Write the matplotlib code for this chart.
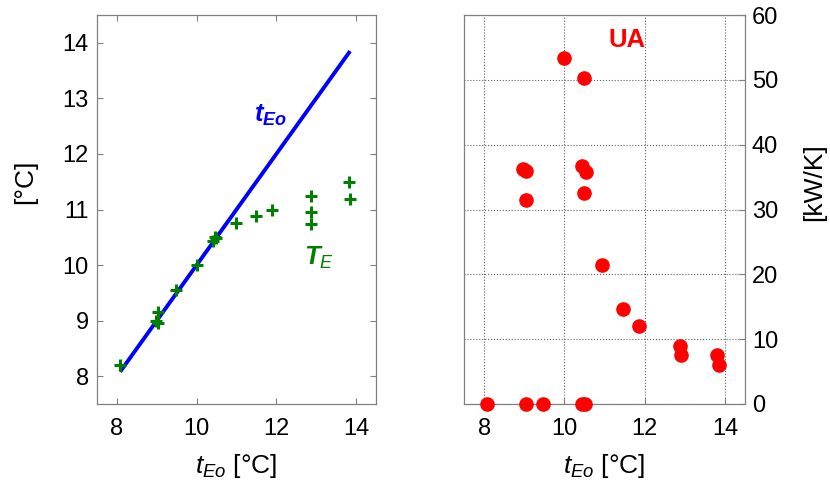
import numpy as np
import matplotlib
matplotlib.use('Agg')
import matplotlib.pyplot as plt

plt.rcParams['font.family'] = ['Liberation Sans', 'DejaVu Sans']
plt.rcParams['mathtext.fontset'] = 'custom'
plt.rcParams['mathtext.rm'] = 'Liberation Sans'
plt.rcParams['mathtext.it'] = 'Liberation Sans:italic'
plt.rcParams['mathtext.bf'] = 'Liberation Sans:bold'
plt.rcParams['mathtext.bfit'] = 'Liberation Sans:bold:italic'

# data
t_eo_line = [8.08, 13.85]
te_x = [8.08, 9.04, 8.98, 9.04, 9.47, 10.0, 10.42, 10.48, 10.45, 10.98,
        11.48, 11.88, 12.86, 12.88, 12.88, 13.82, 13.85]
te_y = [8.2, 9.16, 9.0, 8.95, 9.55, 10.01, 10.43, 10.48, 10.5, 10.75,
        10.88, 11.0, 11.25, 10.95, 10.74, 11.5, 11.19]
ua_x = [10.0, 10.48, 8.98, 9.05, 9.04, 10.44, 10.54, 10.48, 10.95, 11.46,
        11.86, 12.87, 12.91, 13.81, 13.85, 8.08, 9.04, 9.48, 10.44, 10.52]
ua_y = [53.3, 50.3, 36.3, 35.9, 31.4, 36.7, 35.8, 32.5, 21.5, 14.6,
        12.1, 9.0, 7.5, 7.6, 6.0, 0, 0, 0, 0, 0]
x_ticks = [8, 10, 12, 14]
y_ticks_left = [8, 9, 10, 11, 12, 13, 14]
y_ticks_right = [0, 10, 20, 30, 40, 50, 60]

spine_col = '#808080'
fig = plt.figure(figsize=(8.3, 4.8), dpi=100)
ax1 = fig.add_axes([97/830, 76/480, 279/830, 389/480])
ax2 = fig.add_axes([464/830, 76/480, 281/830, 389/480])

# left panel
ax1.plot(t_eo_line, t_eo_line, color='#0000ff', lw=2.8, solid_capstyle='butt')
ax1.plot(te_x, te_y, '+', color='#008000', ms=9, mew=2.2)
ax1.set_xlim(7.5, 14.5)
ax1.set_ylim(7.5, 14.5)
ax1.set_xticks(x_ticks)
ax1.set_yticks(y_ticks_left)
ax1.tick_params(direction='in', length=4, width=0.8, color=spine_col,
                labelsize=17, top=True, right=True, pad=6)
ax1.tick_params(axis='x', pad=10)
ax1.set_xlabel(r'$t_{Eo}$ [°C]', fontsize=19, labelpad=9)
ax1.set_ylabel('[°C]', fontsize=19)
ax1.yaxis.set_label_coords(-0.215, 0.571)
ax1.text(11.44, 12.58, r'$\mathbfit{t}_{\mathbfit{Eo}}$', color='#0000ff', fontsize=18.5)
ax1.text(12.70, 10.0, r'$\mathbfit{T}_{\mathit{E}}$', color='#008000', fontsize=18.5)

# right panel
ax2.plot(ua_x, ua_y, 'o', color='#ff0000', ms=9.5, clip_on=False, zorder=5)
ax2.set_xlim(7.5, 14.5)
ax2.set_ylim(0, 60)
ax2.set_xticks(x_ticks)
ax2.set_yticks(y_ticks_right)
ax2.grid(True, linestyle=':', color='#606060', lw=0.8)
ax2.yaxis.tick_right()
ax2.yaxis.set_label_position('right')
ax2.tick_params(direction='in', length=4, width=0.8, color=spine_col,
                labelsize=17, pad=5)
ax2.tick_params(axis='x', pad=10)
ax2.set_xlabel(r'$t_{Eo}$ [°C]', fontsize=19, labelpad=9)
ax2.set_ylabel('[kW/K]', fontsize=19)
ax2.yaxis.set_label_coords(1.203, 0.571)
ax2.text(11.11, 55.0, 'UA', color='#ff0000', fontsize=18.5, fontweight='bold')

for ax in (ax1, ax2):
    for s in ax.spines.values():
        s.set_color(spine_col)
        s.set_linewidth(0.9)

fig.savefig('out.png', dpi=100)
